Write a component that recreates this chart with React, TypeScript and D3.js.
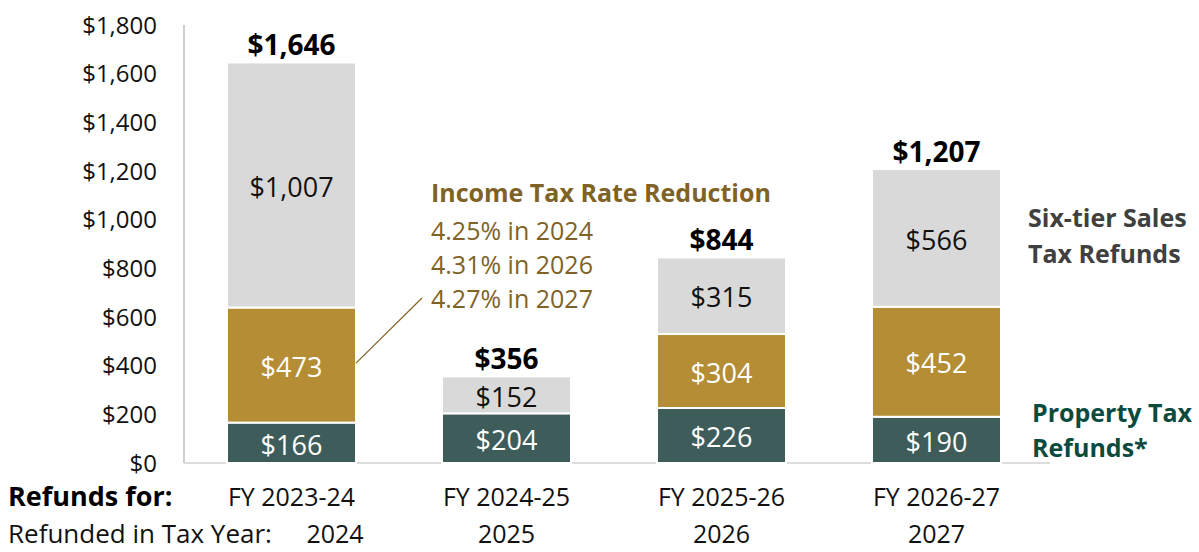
import * as d3 from "d3";
import { useEffect, useRef } from "react";

const categories = ["FY 2023-24", "FY 2024-25", "FY 2025-26", "FY 2026-27"];
const taxYears = ["2024", "2025", "2026", "2027"];
const propertyTax = [166, 204, 226, 190];
const incomeTax = [473, 0, 304, 452];
const salesTax = [1007, 152, 315, 566];
const totals = [1646, 356, 844, 1207];
const yTicks = [0, 200, 400, 600, 800, 1000, 1200, 1400, 1600, 1800];
const annotationLines = ["4.25% in 2024", "4.31% in 2026", "4.27% in 2027"];

const FONT = "'Open Sans', 'Noto Sans', sans-serif";
const GREEN = "#3e5c5a";
const GOLD = "#b58d34";
const GREY = "#d9d9d9";

export default function App() {
  const svgRef = useRef<SVGSVGElement>(null);

  useEffect(() => {
    if (!svgRef.current) return;
    const svg = d3.select(svgRef.current);
    svg.selectAll("*").remove();

    const W = 1199;
    const H = 552;
    const x0 = 184;
    const yZero = 463;
    const yTop = 25;

    const x = d3
      .scaleBand()
      .domain(categories)
      .range([x0, x0 + 4 * 215])
      .paddingInner(0.4)
      .paddingOuter(0.2);
    const y = d3.scaleLinear().domain([0, 1800]).range([yZero, yTop]);

    const rows = categories.map((c, i) => ({
      cat: c,
      property: propertyTax[i],
      income: incomeTax[i],
      sales: salesTax[i],
    }));
    const keys = ["property", "income", "sales"];
    const fills: Record<string, string> = { property: GREEN, income: GOLD, sales: GREY };
    const textFill: Record<string, string> = { property: "#fff", income: "#fff", sales: "#111" };
    const stack = d3.stack<any>().keys(keys)(rows);

    svg.attr("width", W).attr("height", H).style("font-family", FONT);

    // axes lines
    svg.append("line").attr("x1", x0).attr("x2", x0).attr("y1", yTop).attr("y2", yZero)
      .attr("stroke", "#bfbfbf").attr("stroke-width", 1.5);
    svg.append("line").attr("x1", x0).attr("x2", 1050).attr("y1", yZero).attr("y2", yZero)
      .attr("stroke", "#d0d0d0").attr("stroke-width", 1.5);

    // y ticks
    svg.append("g")
      .selectAll("text")
      .data(yTicks)
      .enter()
      .append("text")
      .attr("x", 157)
      .attr("y", (d) => y(d))
      .attr("dy", "0.36em")
      .attr("text-anchor", "end")
      .style("font-size", "24px")
      .attr("fill", "#111")
      .text((d) => "$" + d3.format(",")(d));

    // bars
    stack.forEach((layer) => {
      const key = layer.key;
      const g = svg.append("g");
      layer.forEach((seg: any, i: number) => {
        const v = seg[1] - seg[0];
        if (v <= 0) return;
        g.append("rect")
          .attr("x", x(categories[i])!)
          .attr("width", x.bandwidth())
          .attr("y", y(seg[1]))
          .attr("height", y(seg[0]) - y(seg[1]))
          .attr("fill", fills[key])
          .attr("stroke", "#fff")
          .attr("stroke-width", 2);
        g.append("text")
          .attr("x", x(categories[i])! + x.bandwidth() / 2)
          .attr("y", (y(seg[0]) + y(seg[1])) / 2 + 2)
          .attr("dy", "0.36em")
          .attr("text-anchor", "middle")
          .style("font-size", "27px")
          .attr("fill", textFill[key])
          .text("$" + d3.format(",")(v));
      });
    });

    // totals
    svg.append("g")
      .selectAll("text")
      .data(totals)
      .enter()
      .append("text")
      .attr("x", (_, i) => x(categories[i])! + x.bandwidth() / 2)
      .attr("y", (_, i) => y(d3.sum([propertyTax[i], incomeTax[i], salesTax[i]])) - 7)
      .attr("text-anchor", "middle")
      .style("font-size", "28px")
      .style("font-weight", "bold")
      .attr("fill", "#000")
      .text((d) => "$" + d3.format(",")(d));

    // annotation
    const ann = svg.append("g").attr("fill", "#7f6226");
    ann.append("text").attr("x", 431).attr("y", 202)
      .style("font-size", "25px").style("font-weight", "bold").text("Income Tax Rate Reduction");
    annotationLines.forEach((t, i) => {
      ann.append("text").attr("x", 431).attr("y", 240 + i * 34)
        .style("font-size", "25px").text(t);
    });
    svg.append("line")
      .attr("x1", x(categories[0])! + x.bandwidth())
      .attr("y1", y(propertyTax[0] + incomeTax[0] / 2) - 2)
      .attr("x2", 422).attr("y2", 298)
      .attr("stroke", "#7f6226").attr("stroke-width", 1.2);

    // legend
    const legendSales = svg.append("text").attr("fill", "#404040")
      .style("font-size", "25px").style("font-weight", "bold");
    legendSales.append("tspan").attr("x", 1028).attr("y", 227).text("Six-tier Sales");
    legendSales.append("tspan").attr("x", 1028).attr("y", 263).text("Tax Refunds");
    const legendProp = svg.append("text").attr("fill", "#0b4a3f")
      .style("font-size", "25px").style("font-weight", "bold");
    legendProp.append("tspan").attr("x", 1032).attr("y", 422).text("Property Tax");
    legendProp.append("tspan").attr("x", 1032).attr("y", 457).text("Refunds*");

    // category labels
    svg.append("g")
      .selectAll("text")
      .data(categories)
      .enter()
      .append("text")
      .attr("x", (d) => x(d)! + x.bandwidth() / 2)
      .attr("y", 506)
      .attr("text-anchor", "middle")
      .style("font-size", "25px")
      .attr("fill", "#111")
      .text((d) => d);
    svg.append("text").attr("x", 8).attr("y", 506)
      .style("font-size", "27px").style("font-weight", "bold").attr("fill", "#000")
      .text("Refunds for:");
    svg.append("text").attr("x", 8).attr("y", 543)
      .style("font-size", "26px").attr("fill", "#111")
      .text("Refunded in Tax Year:");
    svg.append("g")
      .selectAll("text")
      .data(taxYears)
      .enter()
      .append("text")
      .attr("x", (_, i) => (i === 0 ? 335 : x(categories[i])! + x.bandwidth() / 2))
      .attr("y", 543)
      .attr("text-anchor", "middle")
      .style("font-size", "25px")
      .attr("fill", "#111")
      .text((d) => d);
  }, []);

  return (
    <svg
      ref={svgRef}
      width={1199}
      height={552}
      style={{ position: "absolute", left: 0, top: 0, background: "#fff" }}
    />
  );
}
